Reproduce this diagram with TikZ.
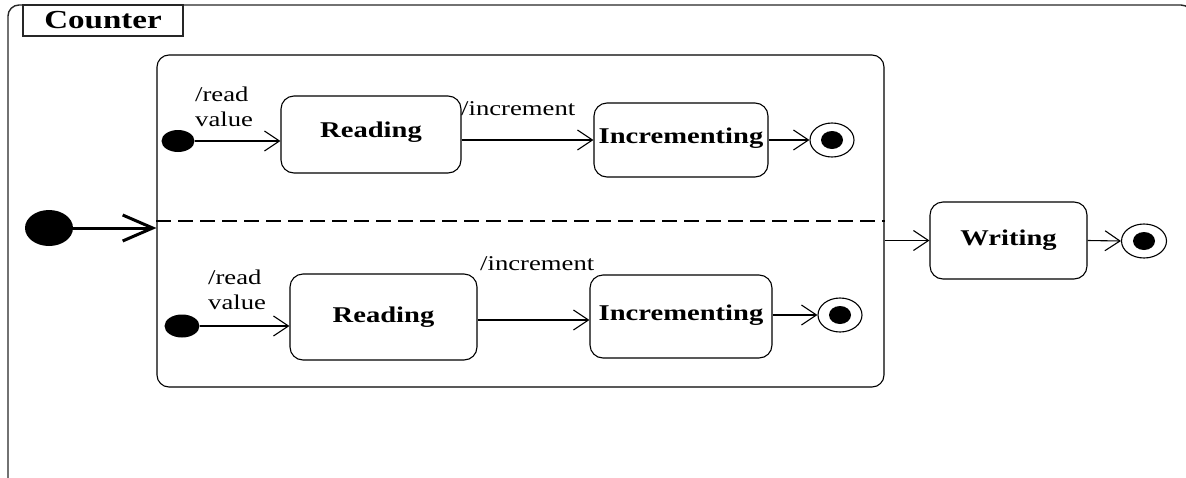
\documentclass[tikz,border=0pt]{standalone}
\usepackage{fontspec}
\setmainfont{Liberation Serif}
\usetikzlibrary{arrows.meta,calc,shapes.geometric}

% text is set a little wider than it is tall
\newcommand{\widetext}[1]{\scalebox{1.27}[1]{#1}}

\tikzset{
  frame/.style={draw=black!85, line width=1.4pt},
  stbox/.style={draw, line width=1.1pt, rounded corners=13pt, inner sep=0pt,
    font=\fontsize{22.5}{24}\selectfont\bfseries},
  startdot/.style={fill=black, ellipse, draw=none},
  lbl/.style={font=\fontsize{21}{25}\selectfont, inner sep=0pt, align=left},
  tr/.style={line width=1.1pt, -{Straight Barb[length=15pt,width=20pt,line width=1.1pt]}},
  bigtr/.style={line width=3pt, -{Straight Barb[length=30pt,width=26pt,line width=3pt]}},
}

\begin{document}
\begin{tikzpicture}[x=1pt,y=-1pt]
\useasboundingbox (0,0) rectangle (1186,477);
\clip (0,0) rectangle (1186,477);

% enclosing frame of the state machine
\draw[frame, rounded corners=11pt] (8,490) -- (8,5) -- (1192,5) -- (1192,490);
\node[frame, draw, minimum width=160, minimum height=31, inner sep=0pt,
  font=\fontsize{26}{28}\selectfont\bfseries] (title) at (103,20.5) {\widetext{Counter}};

% composite state with two concurrent regions
\node[draw, line width=1.1pt, rounded corners=12pt, minimum width=727, minimum height=332,
  inner sep=0pt] (comp) at (520.5,221) {};
\draw[line width=1.1pt, dash pattern=on 15pt off 7pt] (comp.west) -- (comp.east);

% outer initial state
\fill (49,228) ellipse[x radius=24, y radius=18];
\coordinate (bigdot) at (73,228);
\draw[bigtr] (bigdot) -- (bigdot -| comp.west);

% upper region
\node[startdot, minimum width=33, minimum height=22] (d1) at (178,141) {};
\node[stbox, minimum width=180, minimum height=77] (r1) at (371,134.5) {\raisebox{9pt}{\widetext{Reading}}};
\node[stbox, minimum width=174, minimum height=74] (i1) at (681,140) {\raisebox{8pt}{\widetext{Incrementing}}};
\node[draw, ellipse, line width=1.1pt, minimum width=44, minimum height=34, inner sep=0pt] (f1) at (832,140) {};
\fill (f1.center) ellipse[x radius=11, y radius=9];
\draw[tr] (d1.east) -- (d1.east -| r1.west);
\node[lbl, anchor=north west] at (195,87) {\widetext{/read}\\\widetext{value}};
\draw[tr] (r1.east |- i1.west) -- (i1.west);
\node[lbl, anchor=west] at (461,109) {\widetext{/increment}};
\draw[tr] (i1.east) -- (f1.west);

% lower region
\node[startdot, minimum width=35, minimum height=23] (d2) at (182,326) {};
\node[stbox, minimum width=187, minimum height=86] (r2) at (383.5,317) {\raisebox{4pt}{\widetext{Reading}}};
\node[stbox, minimum width=182, minimum height=83] (i2) at (681,316.5) {\raisebox{8pt}{\widetext{Incrementing}}};
\node[draw, ellipse, line width=1.1pt, minimum width=44, minimum height=34, inner sep=0pt] (f2) at (840,315) {};
\fill (f2.center) ellipse[x radius=11, y radius=9];
\draw[tr] (d2.east) -- (d2.east -| r2.west);
\node[lbl, anchor=north west] at (208,270) {\widetext{/read}\\\widetext{value}};
\draw[tr] (r2.east |- 0,320) -- (i2.west |- 0,320);
\node[lbl, anchor=west] at (480,264) {\widetext{/increment}};
\draw[tr] (i2.east |- f2.west) -- (f2.west);

% join into the writing state
\node[stbox, minimum width=157, minimum height=77] (w) at (1008.5,240.5) {\widetext{Writing}};
\node[draw, ellipse, line width=1.1pt, minimum width=45, minimum height=34, inner sep=0pt] (f3) at (1144,241) {};
\fill (f3.center) ellipse[x radius=11, y radius=9];
\draw[tr] (comp.east |- w.west) -- (w.west);
\draw[tr] (w.east) -- (f3.west);
\end{tikzpicture}
\end{document}
